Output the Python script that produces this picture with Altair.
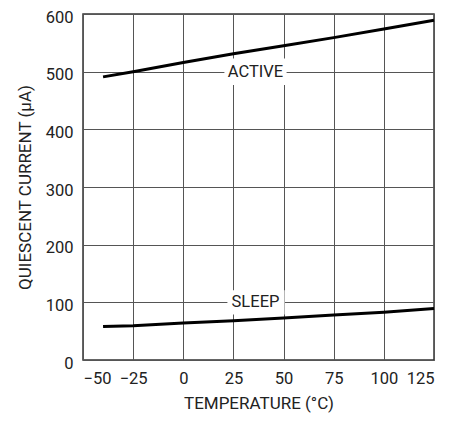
import altair as alt
import pandas as pd

# Data
temps = [-40, -25, 0, 25, 50, 75, 100, 125]
active = [491, 500, 516, 531, 545, 559, 574, 589]
sleep = [58, 59.5, 64, 68, 73, 78, 83, 89.5]

label_text = ["ACTIVE", "SLEEP"]
label_x = [36, 36]
label_y = [500, 100]
box_x0 = [20.5, 22]
box_x1 = [51.5, 50.5]
box_y0 = [477, 79]
box_y1 = [523, 121]

x_ticks = [-50, -25, 0, 25, 50, 75, 100, 125]
y_ticks = [0, 100, 200, 300, 400, 500, 600]

FONT = "Roboto"

lines_df = pd.DataFrame(
    {"temp": temps * 2,
     "current": active + sleep,
     "series": ["ACTIVE"] * len(temps) + ["SLEEP"] * len(temps)}
)
labels_df = pd.DataFrame(
    {"text": label_text, "x": label_x, "y": label_y,
     "x0": box_x0, "x1": box_x1, "y0": box_y0, "y1": box_y1}
)

xscale = alt.Scale(domain=[-50, 125], nice=False, zero=False)
yscale = alt.Scale(domain=[0, 600], nice=False)

xaxis = alt.Axis(
    values=x_ticks, title="TEMPERATURE (°C)",
    labelExpr="replace(format(datum.value, 'd'), '-', '–')",
)
yaxis = alt.Axis(values=y_ticks, title="QUIESCENT CURRENT (µA)")

boxes = alt.Chart(labels_df).mark_rect(color="white").encode(
    x=alt.X("x0:Q", scale=xscale, axis=xaxis),
    x2="x1:Q",
    y=alt.Y("y0:Q", scale=yscale, axis=yaxis),
    y2="y1:Q",
)

texts = alt.Chart(labels_df).mark_text(
    font=FONT, fontSize=16.5, color="#222", baseline="middle", align="center"
).encode(
    x=alt.X("x:Q", scale=xscale),
    y=alt.Y("y:Q", scale=yscale),
    text="text:N",
)

lines = alt.Chart(lines_df).mark_line(color="black", strokeWidth=3).encode(
    x=alt.X("temp:Q", scale=xscale),
    y=alt.Y("current:Q", scale=yscale),
    detail="series:N",
)

chart = (
    alt.layer(boxes, texts, lines)
    .properties(
        width=351, height=346,
        autosize=alt.AutoSizeParams(type="none"),
        padding={"left": 75, "top": 6, "right": 20, "bottom": 54},
    )
    .configure_view(stroke="#333", strokeWidth=1.5)
    .configure_axis(
        grid=True, gridColor="#555", gridWidth=1, gridOpacity=1,
        ticks=False, domain=False,
        labelFont=FONT, labelFontSize=16.5, labelColor="#222",
        titleFont=FONT, titleFontSize=17, titleColor="#222",
        titleFontWeight="normal",
    )
    .configure_axisX(labelPadding=10, titlePadding=9)
    .configure_axisY(labelPadding=10, titlePadding=11, labelOffset=3)
)

chart.save("out.html", embed_options={"renderer": "svg", "actions": False})
